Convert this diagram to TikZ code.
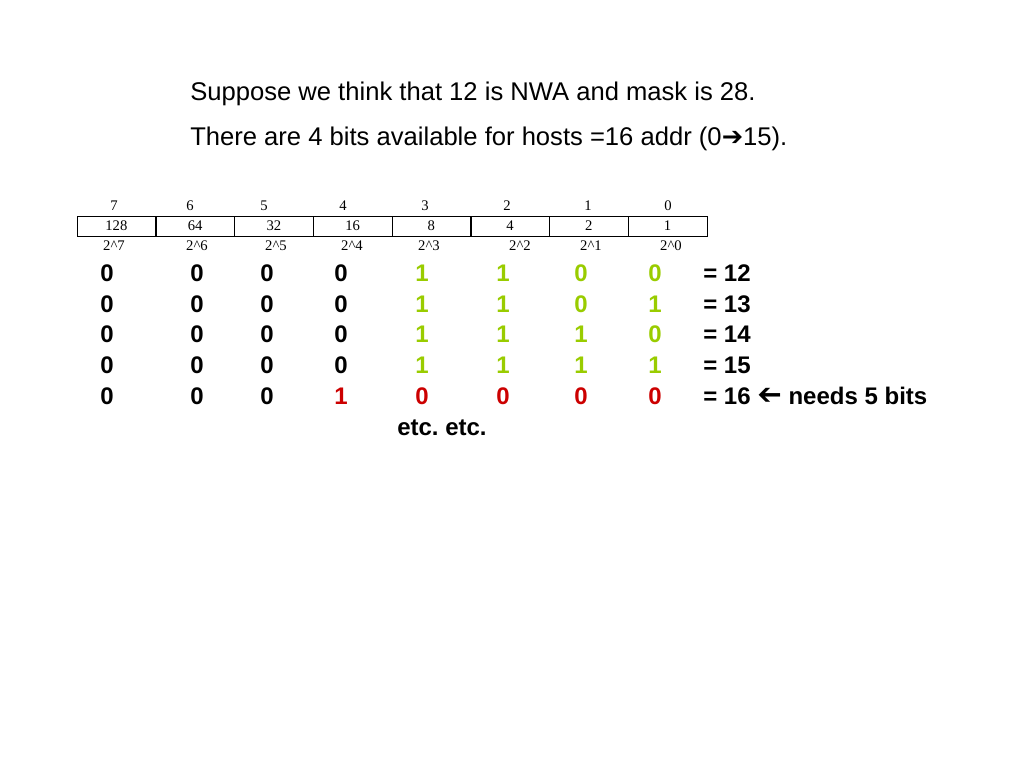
\documentclass[tikz,border=0pt]{standalone}
\usepackage{fontspec}
\usepackage{graphicx}
\setmainfont{Liberation Sans}
\newfontfamily\tablefont{Liberation Serif}
\newfontfamily\arrowfont{DejaVu Sans}
\definecolor{bitgreen}{HTML}{99CC00}
\definecolor{bitred}{HTML}{CC0000}
\frenchspacing
\begin{document}
\begin{tikzpicture}[x=0.75pt,y=-0.75pt,
  line node/.style={anchor=base west,inner sep=0pt,font=\fontsize{19.2}{22}\selectfont},
  cell node/.style={draw,minimum width=59.0625pt,minimum height=15pt,inner sep=0pt,font=\tablefont\fontsize{11}{12}\selectfont},
  idx node/.style={inner sep=0pt,font=\tablefont\fontsize{11}{12}\selectfont},
  bit node/.style={inner sep=0pt,font=\bfseries\fontsize{18}{20}\selectfont},
  k/.style={text=black},g/.style={text=bitgreen},r/.style={text=bitred}]
\useasboundingbox (0,0) rectangle (1024,768);
% the two lines of text
\node [line node](t1) at (190,100) {Suppose we think that 12 is NWA and mask is 28.};
\node [line node](t2) at (190,145) {There are 4 bits available for hosts =16 addr (0{\arrowfont ➔}15).};
% the table of place values
\begin{scope}[every node/.style={cell node}]
\node (c7) at (116.4,226) {128};
\node (c6) at (195.1,226) {64};
\node (c5) at (273.9,226) {32};
\node (c4) at (352.6,226) {16};
\node (c3) at (431.4,226) {8};
\node (c2) at (510.1,226) {4};
\node (c1) at (588.9,226) {2};
\node (c0) at (667.6,226) {1};
\end{scope}
\begin{scope}[every node/.style={idx node}]
\node (p7) at (114,206) {7};
\node (p6) at (190,206) {6};
\node (p5) at (264,206) {5};
\node (p4) at (343,206) {4};
\node (p3) at (425,206) {3};
\node (p2) at (507,206) {2};
\node (p1) at (588,206) {1};
\node (p0) at (668,206) {0};
\node (e7) at (114,246) {2\^{}7};
\node (e6) at (197,246) {2\^{}6};
\node (e5) at (276,246) {2\^{}5};
\node (e4) at (352,246) {2\^{}4};
\node (e3) at (429,246) {2\^{}3};
\node (e2) at (520,246) {2\^{}2};
\node (e1) at (591,246) {2\^{}1};
\node (e0) at (671,246) {2\^{}0};
\end{scope}
% the bits, one row per address
\foreach \y/\row [count=\r] in {
    273/{0/k,0/k,0/k,0/k,1/g,1/g,0/g,0/g},
    304/{0/k,0/k,0/k,0/k,1/g,1/g,0/g,1/g},
    334/{0/k,0/k,0/k,0/k,1/g,1/g,1/g,0/g},
    365/{0/k,0/k,0/k,0/k,1/g,1/g,1/g,1/g},
    396/{0/k,0/k,0/k,1/r,0/r,0/r,0/r,0/r}}
  \foreach \b/\c [count=\k] in \row {
    \pgfmathsetmacro{\xpos}{{107,197,267,341,422,503,581,655}[\k-1]}
    \node [bit node,\c](b\r-\k) at (\xpos,\y) {\b};
  }
\foreach \y/\sum [count=\r] in {273/12,304/13,334/14,365/15}
  \node [bit node,anchor=west](s\r) at (703,\y) {= \sum};
\node [bit node,anchor=west](s5) at (703,396) {= 16 \reflectbox{\arrowfont\fontsize{22}{22}\selectfont ➔} needs 5 bits};
\node [bit node](etc) at (442,428) {etc. etc.};
\end{tikzpicture}
\end{document}
